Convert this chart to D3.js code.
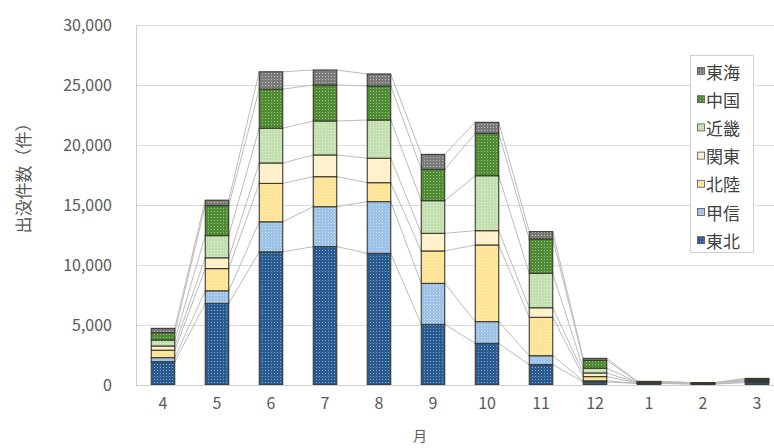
<!DOCTYPE html>
<html>
<head>
<meta charset="utf-8">
<script src="https://cdn.jsdelivr.net/npm/d3@7"></script>
<style>
  html, body { margin: 0; padding: 0; background: #fff; }
  svg { display: block; font-family: "Noto Sans CJK JP", "Noto Sans", sans-serif; }
</style>
</head>
<body>
<svg id="chart" width="774" height="448"></svg>
<script>
// Months of the fiscal year (April to March)
const months = ["4", "5", "6", "7", "8", "9", "10", "11", "12", "1", "2", "3"];

// Sightings per region per month (件)
const tohoku  = [1940, 6800, 11100, 11530, 10970, 5050, 3470, 1700, 250, 120, 80, 200];
const koshin  = [340, 1050, 2500, 3330, 4310, 3420, 1810, 740, 100, 20, 15, 50];
const hokuriku = [620, 1850, 3200, 2500, 1580, 2700, 6390, 3200, 350, 40, 25, 80];
const kanto   = [350, 900, 1700, 1810, 2040, 1470, 1190, 800, 300, 30, 20, 50];
const kinki   = [500, 1850, 2900, 2830, 3180, 2720, 4580, 2860, 400, 40, 25, 70];
const chugoku = [610, 2500, 3250, 3000, 2840, 2610, 3530, 2870, 650, 40, 25, 80];
const tokai   = [360, 450, 1450, 1250, 1000, 1250, 920, 610, 170, 10, 10, 20];

const yTicks = [0, 5000, 10000, 15000, 20000, 25000, 30000];
const seriesNames = ["東北", "甲信", "北陸", "関東", "近畿", "中国", "東海"];
const seriesValues = [tohoku, koshin, hokuriku, kanto, kinki, chugoku, tokai];

// Fill colour and dot colour of each region's hatched fill
const styles = [
  { base: "#2b5b8e", dot: "#7fa9d6" },
  { base: "#9cc2e8", dot: "#cfe2f5" },
  { base: "#ffe394", dot: "#fff2c4" },
  { base: "#fff0c8", dot: "#fffaea" },
  { base: "#c3dfb0", dot: "#e4f1da" },
  { base: "#4f8a34", dot: "#9cc47e" },
  { base: "#7a7a7a", dot: "#c4c4c4" }
];

const svg = d3.select("#chart");
const margin = { left: 136, right: 784, top: 25, bottom: 385 };

const x = d3.scaleBand()
  .domain(months)
  .range([margin.left, margin.right])
  .paddingInner(0.565)
  .paddingOuter(0.2825);

const y = d3.scaleLinear().domain([0, 30000]).range([margin.bottom, margin.top]);

// Dotted fill patterns
const defs = svg.append("defs");
styles.forEach((s, i) => {
  const p = defs.append("pattern")
    .attr("id", "pat" + i)
    .attr("patternUnits", "userSpaceOnUse")
    .attr("width", 3).attr("height", 3);
  p.append("rect").attr("width", 3).attr("height", 3).attr("fill", s.base);
  p.append("rect").attr("x", 1).attr("y", 1).attr("width", 1).attr("height", 1).attr("fill", s.dot);
});

// Stack the regions
const table = months.map((m, i) => {
  const row = { month: m };
  seriesNames.forEach((n, k) => { row[n] = seriesValues[k][i]; });
  return row;
});
const stacked = d3.stack().keys(seriesNames)(table);

// Horizontal gridlines
svg.append("g")
  .selectAll("line")
  .data(yTicks.filter(t => t > 0))
  .join("line")
  .attr("x1", margin.left).attr("x2", margin.right)
  .attr("y1", d => y(d) + 0.5).attr("y2", d => y(d) + 0.5)
  .attr("stroke", "#dcdcdc").attr("stroke-width", 1);

// Y axis labels
const yAxis = d3.axisLeft(y).tickValues(yTicks).tickFormat(d3.format(",")).tickSize(0).tickPadding(24);
const yg = svg.append("g").attr("transform", `translate(${margin.left},0)`).call(yAxis);
yg.select(".domain").remove();
yg.selectAll("text").attr("fill", "#595959").style("font-size", "16px")
  .style("font-family", "'Noto Sans CJK JP', sans-serif");

// Left edge of the plot area
svg.append("line")
  .attr("x1", margin.left + 0.5).attr("x2", margin.left + 0.5)
  .attr("y1", margin.top).attr("y2", margin.bottom)
  .attr("stroke", "#cfcfcf");

// Series lines joining the top of each region between neighbouring bars
const linesG = svg.append("g");
stacked.forEach(layer => {
  for (let i = 0; i < months.length - 1; i++) {
    linesG.append("line")
      .attr("x1", x(months[i]) + x.bandwidth())
      .attr("x2", x(months[i + 1]))
      .attr("y1", y(layer[i][1]))
      .attr("y2", y(layer[i + 1][1]))
      .attr("stroke", "#bcbcbc")
      .attr("stroke-width", 1);
  }
});

// Stacked bars
svg.append("g")
  .selectAll("g")
  .data(stacked)
  .join("g")
  .attr("fill", (d, i) => `url(#pat${i})`)
  .selectAll("rect")
  .data(d => d)
  .join("rect")
  .attr("x", d => x(d.data.month))
  .attr("width", x.bandwidth())
  .attr("y", d => y(d[1]))
  .attr("height", d => y(d[0]) - y(d[1]))
  .attr("stroke", "#3a3a30")
  .attr("stroke-width", 1.1);

// Baseline
svg.append("line")
  .attr("x1", margin.left).attr("x2", margin.right)
  .attr("y1", margin.bottom + 0.5).attr("y2", margin.bottom + 0.5)
  .attr("stroke", "#cfcfcf");

// X axis labels
const xAxis = d3.axisBottom(x).tickSize(0).tickPadding(13);
const xg = svg.append("g").attr("transform", `translate(0,${margin.bottom})`).call(xAxis);
xg.select(".domain").remove();
xg.selectAll("text").attr("fill", "#595959").style("font-size", "16px")
  .style("font-family", "'Noto Sans CJK JP', sans-serif");

// Axis titles
svg.append("text")
  .attr("x", 420).attr("y", 441)
  .attr("text-anchor", "middle")
  .attr("fill", "#595959")
  .style("font-size", "14px")
  .text("月");

svg.append("text")
  .attr("transform", "translate(22,174) rotate(-90)")
  .attr("text-anchor", "middle")
  .attr("dominant-baseline", "central")
  .attr("fill", "#595959")
  .style("font-size", "17px")
  .text("出没件数（件）");

// Legend
const legend = svg.append("g");
legend.append("rect")
  .attr("x", 690.5).attr("y", 55.5).attr("width", 63).attr("height", 197)
  .attr("fill", "#fff").attr("stroke", "#d0d0d0");
const order = seriesNames.map((n, i) => i).reverse();
order.forEach((k, j) => {
  const cy = 71 + j * 28.2;
  legend.append("rect")
    .attr("x", 697.5).attr("y", cy - 3.5).attr("width", 7).attr("height", 7)
    .attr("fill", `url(#pat${k})`).attr("stroke", "#555").attr("stroke-width", 0.8);
  legend.append("text")
    .attr("x", 706).attr("y", cy)
    .attr("dominant-baseline", "central")
    .attr("fill", "#404040")
    .style("font-size", "17px")
    .text(seriesNames[k]);
});
</script>
</body>
</html>
